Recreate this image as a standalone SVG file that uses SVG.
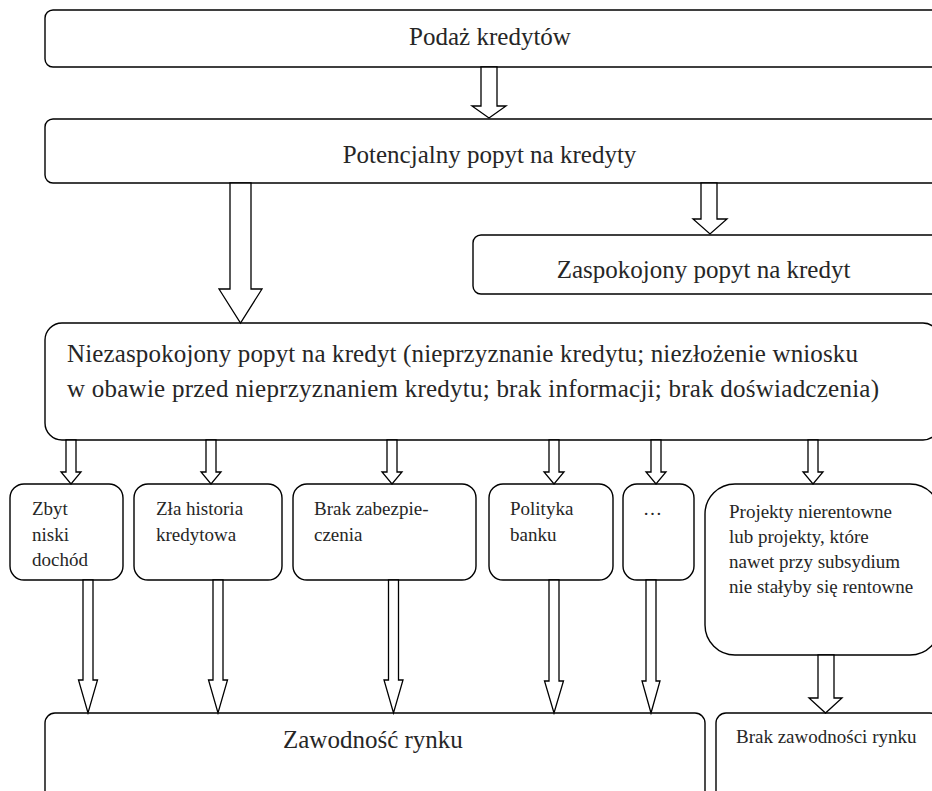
<svg xmlns="http://www.w3.org/2000/svg" width="932" height="791" viewBox="0 0 932 791">
<style>
.box{fill:#fff;stroke:#000;stroke-width:1.4}
.arr{fill:#fff;stroke:#000;stroke-width:1.3;stroke-linejoin:miter}
text{font-family:"Liberation Serif","Times New Roman",serif;fill:#262626}
.big{font-size:25px}
.sm{font-size:19px}
</style>
<rect width="932" height="791" fill="#fff"/>
<g id="n-podaz"><rect class="box" x="45" y="10" width="895" height="57" rx="8"/><text class="big" x="490" y="45" text-anchor="middle">Podaż kredytów</text></g>
<g id="n-potencjalny"><rect class="box" x="45" y="119" width="895" height="64" rx="8"/><text class="big" x="489.5" y="163" text-anchor="middle">Potencjalny popyt na kredyty</text></g>
<g id="n-zaspokojony"><rect class="box" x="473" y="235" width="467" height="59" rx="8"/><text class="big" x="703.5" y="278" text-anchor="middle">Zaspokojony popyt na kredyt</text></g>
<g id="n-niezaspokojony"><rect class="box" x="45" y="323" width="895" height="117" rx="17"/><text class="big" x="67" y="362" textLength="791" lengthAdjust="spacing">Niezaspokojony popyt na kredyt (nieprzyznanie kredytu; niezłożenie wniosku</text><text class="big" x="67" y="397" textLength="812" lengthAdjust="spacing">w obawie przed nieprzyznaniem kredytu; brak informacji; brak doświadczenia)</text></g>
<g id="n-dochod"><rect class="box" x="10" y="484" width="113" height="96" rx="14"/><text class="sm" x="32" y="515">Zbyt</text><text class="sm" x="32" y="541">niski</text><text class="sm" x="32" y="566">dochód</text></g>
<g id="n-historia"><rect class="box" x="134" y="484" width="148" height="96" rx="14"/><text class="sm" x="156" y="515">Zła historia</text><text class="sm" x="156" y="541">kredytowa</text></g>
<g id="n-zabezpieczenia"><rect class="box" x="293" y="484" width="183" height="96" rx="14"/><text class="sm" x="314" y="515">Brak zabezpie-</text><text class="sm" x="314" y="541">czenia</text></g>
<g id="n-polityka"><rect class="box" x="489" y="484" width="124" height="96" rx="14"/><text class="sm" x="510" y="515">Polityka</text><text class="sm" x="510" y="541">banku</text></g>
<g id="n-inne"><rect class="box" x="623" y="484" width="71" height="96" rx="14"/><text class="sm" x="643" y="515">…</text></g>
<g id="n-projekty"><rect class="box" x="705" y="484" width="235" height="171" rx="30"/><text class="sm" x="729" y="518">Projekty nierentowne</text><text class="sm" x="729" y="543">lub projekty, które</text><text class="sm" x="729" y="568">nawet przy subsydium</text><text class="sm" x="729" y="593">nie stałyby się rentowne</text></g>
<g id="n-zawodnosc"><rect class="box" x="45" y="713" width="660" height="100" rx="10"/><text class="big" x="283" y="748">Zawodność rynku</text></g>
<g id="n-brak-zawodnosci"><rect class="box" x="716" y="713" width="224" height="100" rx="10"/><text class="sm" x="736" y="743">Brak zawodności rynku</text></g>
<g id="connectors">
<polygon class="arr" points="481,67 497,67 497,106 506,106 489,118 472,106 481,106"/>
<polygon class="arr" points="230,183 251,183 251,289 262,289 240.5,323 219,289 230,289"/>
<polygon class="arr" points="701,183 717,183 717,219 727,219 710,234 693,219 701,219"/>
<polygon class="arr" points="66,440 76,440 76,472 81,472 71,484 61,472 66,472"/>
<polygon class="arr" points="206,440 216,440 216,472 221,472 211,484 201,472 206,472"/>
<polygon class="arr" points="387,440 397,440 397,472 402,472 392,484 382,472 387,472"/>
<polygon class="arr" points="549,440 559,440 559,472 564,472 554,484 544,472 549,472"/>
<polygon class="arr" points="651,440 661,440 661,472 666,472 656,484 646,472 651,472"/>
<polygon class="arr" points="808,440 818,440 818,472 823,472 813,484 803,472 808,472"/>
<polygon class="arr" points="83,580 93,580 93,680 97.5,680 88,713 78.5,680 83,680"/>
<polygon class="arr" points="213,580 223,580 223,680 227.5,680 218,713 208.5,680 213,680"/>
<polygon class="arr" points="388.5,580 398.5,580 398.5,680 403,680 393.5,713 384,680 388.5,680"/>
<polygon class="arr" points="549,580 559,580 559,681 563.5,681 554,713 544.5,681 549,681"/>
<polygon class="arr" points="646,580 656,580 656,681 660,681 651,713 642,681 646,681"/>
<polygon class="arr" points="818,655 834,655 834,698 842,698 825.5,713 809,698 818,698"/>
</g>
</svg>
